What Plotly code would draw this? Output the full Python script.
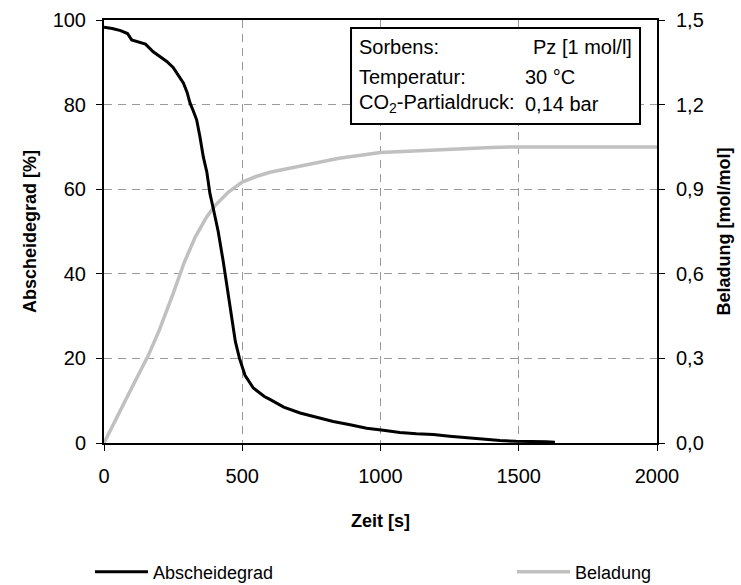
import plotly.graph_objects as go

# Abscheidegrad [%] over time
t_abs = [0, 30, 60, 85, 100, 150, 178, 200, 227, 250, 263, 287, 300, 311, 323, 335,
         347, 359, 372, 383, 395, 413, 431, 445, 460, 475, 490, 510, 540, 580, 600,
         650, 709, 770, 829, 890, 950, 1010, 1070, 1130, 1191, 1250, 1312, 1370,
         1432, 1490, 1553, 1600, 1631]
v_abs = [98.3, 98.0, 97.5, 96.8, 95.3, 94.3, 92.5, 91.5, 90.2, 88.8, 87.6, 85.1, 83.0,
         80.4, 78.5, 76.4, 72.4, 67.7, 64.0, 59.0, 55.5, 50.0, 43.0, 37.0, 30.0, 24.0,
         20.0, 16.0, 13.0, 11.0, 10.3, 8.5, 7.1, 6.0, 5.1, 4.3, 3.5, 3.0, 2.5, 2.2,
         2.0, 1.6, 1.2, 0.9, 0.6, 0.4, 0.4, 0.3, 0.2]

# Beladung [mol/mol] over time
t_bel = [0, 50, 100, 160, 200, 250, 290, 330, 370, 400, 450, 500, 550, 600, 675, 750,
         850, 1000, 1200, 1400, 1500, 2000]
v_bel = [0.0, 0.1, 0.195, 0.31, 0.40, 0.53, 0.64, 0.73, 0.80, 0.84, 0.89, 0.925, 0.945,
         0.96, 0.975, 0.99, 1.01, 1.03, 1.04, 1.048, 1.05, 1.05]

x_ticks = [0, 500, 1000, 1500, 2000]
y_left_ticks = [0, 20, 40, 60, 80, 100]
y_right_ticks = [0, 0.3, 0.6, 0.9, 1.2, 1.5]

info_rows = [("Sorbens:", "Pz [1 mol/l]"),
             ("Temperatur:", "30 °C"),
             ("CO<sub>2</sub>-Partialdruck:", "0,14 bar")]

FONT = "Arial, Liberation Sans, sans-serif"
GRID = "#999999"

fig = go.Figure()
fig.add_trace(go.Scatter(x=t_bel, y=v_bel, mode="lines", name="Beladung",
                         line=dict(color="#c0c0c0", width=3.5), yaxis="y",
                         legend="legend2"))
fig.add_trace(go.Scatter(x=t_abs, y=v_abs, mode="lines", name="Abscheidegrad",
                         line=dict(color="black", width=3), yaxis="y2",
                         legend="legend"))

axis_common = dict(showline=True, linecolor="black", linewidth=2, ticks="outside",
                   ticklen=6, tickcolor="black", tickwidth=1, zeroline=False,
                   tickfont=dict(family=FONT, size=20, color="black"))

legend_common = dict(orientation="h", xref="container", yref="container",
                     xanchor="left", yanchor="middle", y=(585 - 572) / 585,
                     itemwidth=53, font=dict(family=FONT, size=18, color="black"),
                     bgcolor="rgba(0,0,0,0)", borderwidth=0)

fig.update_layout(
    width=741, height=585,
    margin=dict(l=104, r=84, t=20, b=141.5, autoexpand=False),
    paper_bgcolor="white", plot_bgcolor="white",
    separators=",.",
    showlegend=True,
    legend=dict(x=90 / 741, **legend_common),
    legend2=dict(x=512 / 741, **legend_common),
    xaxis=dict(range=[0, 2000], tickvals=x_ticks, tickformat="d", mirror=True,
               ticklabelstandoff=8,
               showgrid=True, gridcolor=GRID, griddash="8px,6px", gridwidth=1,
               title=dict(text="<b>Zeit [s]</b>", standoff=28,
                          font=dict(family=FONT, size=18, color="black")),
               **axis_common),
    yaxis=dict(range=[0, 1.5], tickvals=y_right_ticks, tickformat=".1f", side="right",
               showgrid=False, ticklabelstandoff=7,
               title=dict(text="<b>Beladung [mol/mol]</b>", standoff=15,
                          font=dict(family=FONT, size=18, color="black")),
               **axis_common),
    yaxis2=dict(range=[0, 100], tickvals=y_left_ticks, side="left", overlaying="y",
                showgrid=True, gridcolor=GRID, griddash="8px,6px", gridwidth=1,
                ticklabelstandoff=6,
                title=dict(text="<b>Abscheidegrad [%]</b>", standoff=11,
                           font=dict(family=FONT, size=18, color="black")),
                **axis_common),
)

# info box with test conditions
fig.add_shape(type="rect", xref="paper", yref="paper", x0=0.4467, x1=0.9693,
              y0=0.754, y1=0.981, line=dict(color="black", width=2),
              fillcolor="white", layer="above")
row_y = [0.936, 0.866, 0.802]
right_x = [0.773, 0.757, 0.757]
for (label, value), yy, xv in zip(info_rows, row_y, right_x):
    fig.add_annotation(text=label, xref="paper", yref="paper", x=0.4575, y=yy,
                       xanchor="left", yanchor="middle", showarrow=False,
                       font=dict(family=FONT, size=20, color="black"))
    fig.add_annotation(text=value, xref="paper", yref="paper", x=xv, y=yy,
                       xanchor="left", yanchor="middle", showarrow=False,
                       font=dict(family=FONT, size=20, color="black"))

fig.write_html("out.html")
